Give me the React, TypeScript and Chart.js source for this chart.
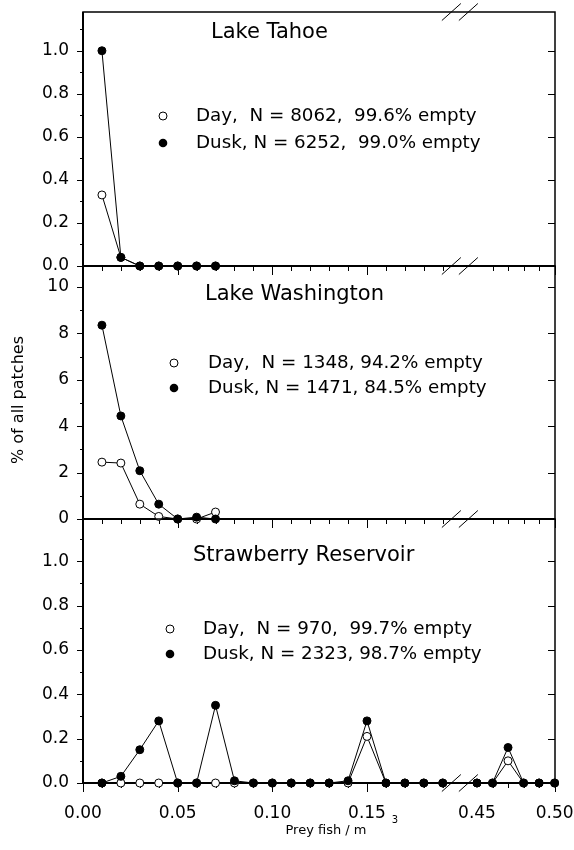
import React, { useEffect, useRef } from "react";
import { Chart, registerables } from "chart.js";

Chart.register(...registerables);

// ---------------- data ----------------
const LAKE_X = [0.01, 0.02, 0.03, 0.04, 0.05, 0.06, 0.07];

const TAHOE_DAY = [0.33, 0.04, 0, 0, 0, 0, 0];
const TAHOE_DUSK = [1.0, 0.04, 0, 0, 0, 0, 0];

const WASH_DAY = [2.45, 2.41, 0.64, 0.11, 0, 0, 0.3];
const WASH_DUSK = [8.35, 4.44, 2.08, 0.64, 0, 0.08, 0];

const STRAW_X = [
  0.01, 0.02, 0.03, 0.04, 0.05, 0.06, 0.07, 0.08, 0.09, 0.1, 0.11, 0.12, 0.13,
  0.14, 0.15, 0.16, 0.17, 0.18, 0.19, 0.45, 0.46, 0.47, 0.48, 0.49, 0.5,
];
const STRAW_DAY = [
  0, 0, 0, 0, 0, 0, 0, 0, 0, 0, 0, 0, 0, 0, 0.21, 0, 0, 0, 0, 0, 0, 0.1, 0, 0, 0,
];
const STRAW_DUSK = [
  0, 0.03, 0.15, 0.28, 0, 0, 0.35, 0.01, 0, 0, 0, 0, 0, 0.01, 0.28, 0, 0, 0, 0,
  0, 0, 0.16, 0, 0, 0,
];

const X_TICK_VALUES = [0, 0.05, 0.1, 0.15, 0.45, 0.5];
const X_TICK_LABELS = ["0.00", "0.05", "0.10", "0.15", "0.45", "0.50"];
const X_MAJOR_MARKS = [0, 0.05, 0.1, 0.15, 0.5];
const X_MINOR_MARKS = [
  0.01, 0.02, 0.03, 0.04, 0.06, 0.07, 0.08, 0.09, 0.11, 0.12, 0.13, 0.14, 0.16,
  0.17, 0.18, 0.19, 0.46, 0.47, 0.48, 0.49,
];

const FRAC_MAJOR = [0, 0.2, 0.4, 0.6, 0.8, 1.0];
const FRAC_LABELS = ["0.0", "0.2", "0.4", "0.6", "0.8", "1.0"];
const FRAC_MINOR = [0.1, 0.3, 0.5, 0.7, 0.9, 1.1];

const PCT_MAJOR = [0, 2, 4, 6, 8, 10];
const PCT_LABELS = ["0", "2", "4", "6", "8", "10"];
const PCT_MINOR = [1, 3, 5, 7, 9];

// ---------------- broken x axis ----------------
const BREAK_FROM = 0.19;
const BREAK_TO = 0.45;
const RIGHT_START = 20.81; // scale units at 0.45
const X_SCALE_MAX = 24.93;
const toScale = (x: number) =>
  x < 0.3 ? x * 100 : RIGHT_START + (x - 0.45) * 82;

const FONT = "'DejaVu Sans', sans-serif";

type Panel = {
  key: string;
  top: number; // canvas top in page
  height: number;
  padTop: number;
  xAxisHeight: number;
  showXLabels: boolean;
  yMax: number;
  yMajor: number[];
  yLabels: string[];
  yMinor: number[];
  xs: number[];
  day: number[];
  dusk: number[];
  title: string;
  titleX: number;
  titleY: number;
  legendMarkX: number;
  legendTextX: number;
  legendY: number[];
  dayText: string;
  duskText: string;
  breakTop: boolean;
  yTitle?: boolean;
  xTitle?: boolean;
};

const PANELS: Panel[] = [
  {
    key: "tahoe",
    top: 0,
    height: 290,
    padTop: 12,
    xAxisHeight: 24,
    showXLabels: false,
    yMax: 1.18,
    yMajor: FRAC_MAJOR,
    yLabels: FRAC_LABELS,
    yMinor: FRAC_MINOR,
    xs: LAKE_X,
    day: TAHOE_DAY,
    dusk: TAHOE_DUSK,
    title: "Lake Tahoe",
    titleX: 211,
    titleY: 33,
    legendMarkX: 163,
    legendTextX: 196,
    legendY: [116, 143],
    dayText: "Day,  N = 8062,  99.6% empty",
    duskText: "Dusk, N = 6252,  99.0% empty",
    breakTop: true,
  },
  {
    key: "wash",
    top: 250,
    height: 290,
    padTop: 16,
    xAxisHeight: 21,
    showXLabels: false,
    yMax: 10.9,
    yMajor: PCT_MAJOR,
    yLabels: PCT_LABELS,
    yMinor: PCT_MINOR,
    xs: LAKE_X,
    day: WASH_DAY,
    dusk: WASH_DUSK,
    title: "Lake Washington",
    titleX: 205,
    titleY: 295,
    legendMarkX: 174,
    legendTextX: 208,
    legendY: [363, 388],
    dayText: "Day,  N = 1348, 94.2% empty",
    duskText: "Dusk, N = 1471, 84.5% empty",
    breakTop: false,
    yTitle: true,
  },
  {
    key: "straw",
    top: 503,
    height: 347,
    padTop: 16,
    xAxisHeight: 67,
    showXLabels: true,
    yMax: 1.19,
    yMajor: FRAC_MAJOR,
    yLabels: FRAC_LABELS,
    yMinor: FRAC_MINOR,
    xs: STRAW_X,
    day: STRAW_DAY,
    dusk: STRAW_DUSK,
    title: "Strawberry Reservoir",
    titleX: 193,
    titleY: 556,
    legendMarkX: 170,
    legendTextX: 203,
    legendY: [629, 654],
    dayText: "Day,  N = 970,  99.7% empty",
    duskText: "Dusk, N = 2323, 98.7% empty",
    breakTop: false,
    xTitle: true,
  },
];

function series(xs: number[], ys: number[]) {
  const out: { x: number; y: number | null }[] = [];
  xs.forEach((x, i) => {
    if (i > 0 && x - xs[i - 1] > 0.1) {
      out.push({ x: toScale(xs[i - 1]) + 0.5, y: null });
    }
    out.push({ x: toScale(x), y: ys[i] });
  });
  return out;
}

function zeroPadding(s: any) {
  s.paddingTop = 0;
  s.paddingBottom = 0;
  s.paddingLeft = 0;
  s.paddingRight = 0;
}

function makePlugin(p: Panel) {
  const line = (ctx: CanvasRenderingContext2D, x1: number, y1: number, x2: number, y2: number) => {
    ctx.beginPath();
    ctx.moveTo(x1, y1);
    ctx.lineTo(x2, y2);
    ctx.stroke();
  };
  return {
    id: "decor_" + p.key,
    beforeDatasetsDraw(chart: any) {
      const { ctx, chartArea: a, scales } = chart;
      const xs = scales.x;
      const ys = scales.y;
      ctx.save();
      ctx.strokeStyle = "#000";
      ctx.lineWidth = 1.5;
      ctx.strokeRect(a.left, a.top, a.right - a.left, a.bottom - a.top);
      ctx.lineWidth = 2;
      line(ctx, a.left, a.top, a.left, a.bottom + 1);
      line(ctx, a.left, a.bottom, a.right, a.bottom);
      ctx.lineWidth = 1;
      // x tick marks
      X_MAJOR_MARKS.forEach((v) => {
        const px = Math.round(xs.getPixelForValue(toScale(v))) + 0.5;
        line(ctx, px, a.bottom, px, a.bottom + 9);
      });
      X_MINOR_MARKS.forEach((v) => {
        const px = Math.round(xs.getPixelForValue(toScale(v))) + 0.5;
        line(ctx, px, a.bottom, px, a.bottom + 5);
      });
      // y tick marks
      p.yMajor.forEach((v) => {
        const py = Math.round(ys.getPixelForValue(v)) + 0.5;
        line(ctx, a.left - 6, py, a.left, py);
        if (v > 0) line(ctx, a.right - 7, py, a.right, py);
      });
      p.yMinor.forEach((v) => {
        const py = Math.round(ys.getPixelForValue(v)) + 0.5;
        line(ctx, a.left - 3, py, a.left, py);
      });
      // axis break marks
      const bx =
        (xs.getPixelForValue(toScale(BREAK_FROM)) +
          xs.getPixelForValue(toScale(BREAK_TO))) /
        2;
      const edges = p.breakTop ? [a.top, a.bottom] : [a.bottom];
      edges.forEach((y: number) => {
        [-8.5, 8.5].forEach((off) => {
          line(ctx, bx + off - 9.5, y + 8.5, bx + off + 9.5, y - 8.5);
        });
      });
      ctx.restore();
    },
    afterDraw(chart: any) {
      const { ctx } = chart;
      const oy = p.top;
      ctx.save();
      ctx.fillStyle = "#000";
      ctx.textBaseline = "middle";
      ctx.textAlign = "left";
      ctx.font = `21px ${FONT}`;
      ctx.fillText(p.title, p.titleX, p.titleY - oy);
      ctx.font = `18.3px ${FONT}`;
      ctx.fillText(p.dayText, p.legendTextX, p.legendY[0] - oy);
      ctx.fillText(p.duskText, p.legendTextX, p.legendY[1] - oy);
      // legend markers
      ctx.lineWidth = 1;
      ctx.strokeStyle = "#000";
      ctx.beginPath();
      ctx.arc(p.legendMarkX, p.legendY[0] - oy, 4, 0, Math.PI * 2);
      ctx.fillStyle = "#fff";
      ctx.fill();
      ctx.stroke();
      ctx.beginPath();
      ctx.arc(p.legendMarkX, p.legendY[1] - oy, 4.3, 0, Math.PI * 2);
      ctx.fillStyle = "#000";
      ctx.fill();
      if (p.yTitle) {
        ctx.save();
        ctx.translate(19, 400 - oy);
        ctx.rotate(-Math.PI / 2);
        ctx.textAlign = "center";
        ctx.font = `16px ${FONT}`;
        ctx.fillText("% of all patches", 0, 0);
        ctx.restore();
      }
      if (p.xTitle) {
        ctx.textAlign = "center";
        ctx.font = `13px ${FONT}`;
        ctx.fillText("Prey fish / m", 326, 831 - oy);
        ctx.font = `10px ${FONT}`;
        ctx.fillText("3", 395, 820 - oy);
      }
      ctx.restore();
    },
  };
}

function PanelChart({ p }: { p: Panel }) {
  const ref = useRef<HTMLCanvasElement | null>(null);
  useEffect(() => {
    if (!ref.current) return;
    const chart = new Chart(ref.current, {
      type: "line",
      data: {
        datasets: [
          {
            label: "Dusk",
            data: series(p.xs, p.dusk) as any,
            borderColor: "#000",
            borderWidth: 1,
            pointRadius: 4,
            pointBorderWidth: 1,
            pointBackgroundColor: "#000",
            pointBorderColor: "#000",
            clip: false as any,
            spanGaps: false,
          },
          {
            label: "Day",
            data: series(p.xs, p.day) as any,
            borderColor: "#000",
            borderWidth: 1,
            pointRadius: 4,
            pointBorderWidth: 1,
            pointBackgroundColor: "#fff",
            pointBorderColor: "#000",
            clip: false as any,
            spanGaps: false,
          },
        ],
      },
      options: {
        responsive: false,
        animation: false,
        events: [],
        layout: { padding: { top: p.padTop, right: 19, left: 0, bottom: 0 } },
        plugins: { legend: { display: false }, tooltip: { enabled: false } },
        scales: {
          x: {
            type: "linear",
            min: 0,
            max: X_SCALE_MAX,
            grid: { display: false, drawTicks: false },
            border: { display: false },
            ticks: {
              display: p.showXLabels,
              autoSkip: false,
              maxRotation: 0,
              padding: 20,
              color: "#000",
              font: { family: FONT, size: 17 },
              callback: (_v: any, i: number) => X_TICK_LABELS[i],
            },
            afterBuildTicks: (s: any) => {
              s.ticks = X_TICK_VALUES.map((v) => ({ value: toScale(v) }));
            },
            afterFit: (s: any) => {
              s.height = p.xAxisHeight;
              zeroPadding(s);
            },
          },
          y: {
            type: "linear",
            min: 0,
            max: p.yMax,
            grid: { display: false, drawTicks: false },
            border: { display: false },
            ticks: {
              autoSkip: false,
              padding: 14,
              color: "#000",
              font: { family: FONT, size: 17 },
              callback: (_v: any, i: number) => p.yLabels[i],
            },
            afterBuildTicks: (s: any) => {
              s.ticks = p.yMajor.map((v) => ({ value: v }));
            },
            afterFit: (s: any) => {
              s.width = 83;
              zeroPadding(s);
            },
          },
        },
      },
      plugins: [makePlugin(p)],
    } as any);
    return () => chart.destroy();
  }, [p]);
  return (
    <canvas
      ref={ref}
      width={574}
      height={p.height}
      style={{
        position: "absolute",
        left: 0,
        top: p.top,
        width: 574,
        height: p.height,
        display: "block",
      }}
    />
  );
}

export default function App() {
  return (
    <div
      style={{
        position: "absolute",
        left: 0,
        top: 0,
        width: 574,
        height: 850,
        background: "#fff",
      }}
    >
      {PANELS.map((p) => (
        <PanelChart key={p.key} p={p} />
      ))}
    </div>
  );
}
